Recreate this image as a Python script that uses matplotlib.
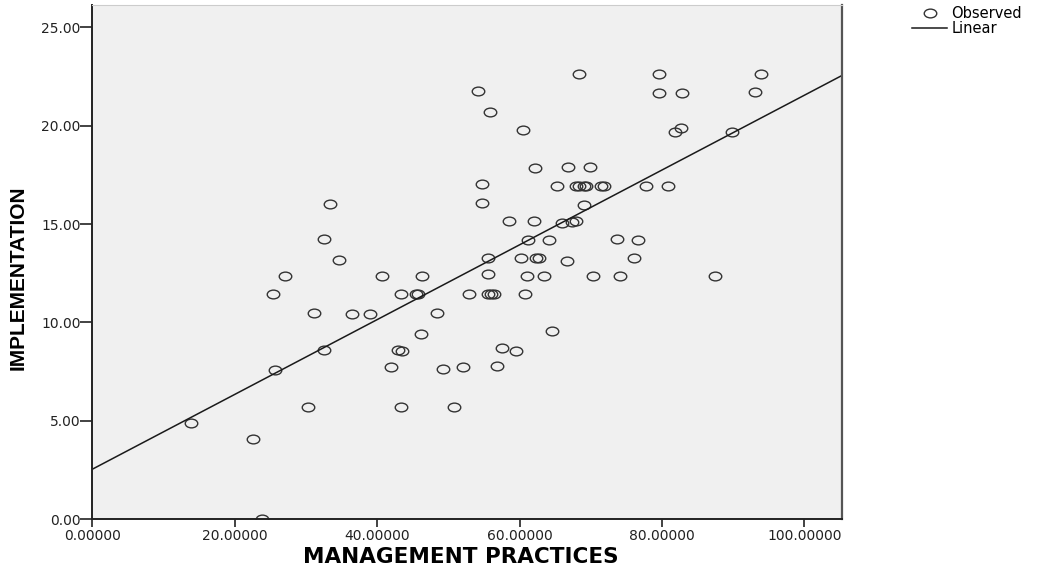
import numpy as np
import matplotlib
matplotlib.use('Agg')
import matplotlib.pyplot as plt
from matplotlib.path import Path
from matplotlib.transforms import Affine2D
from matplotlib.ticker import FormatStrFormatter

# values
management = [23.8, 13.8, 22.6, 30.3, 43.4, 50.8, 25.7, 41.9, 49.3, 52.0,
              56.8, 32.5, 42.9, 43.5, 57.6, 59.5, 46.1, 64.6, 31.1, 36.4,
              39.0, 48.4, 25.3, 43.4, 45.5, 45.8, 52.9, 55.6, 56.0, 56.4,
              60.7, 27.0, 40.7, 46.3, 55.6, 61.0, 63.5, 70.3, 74.1, 87.4,
              34.6, 55.6, 60.2, 62.3, 62.7, 66.7, 76.1, 32.5, 61.2, 64.1,
              73.7, 76.7, 58.5, 62.1, 66.0, 67.4, 67.9, 33.4, 54.7, 69.1,
              54.7, 65.3, 67.9, 68.4, 69.0, 69.4, 71.4, 71.8, 77.8, 80.9,
              62.2, 66.8, 69.9, 60.5, 82.7, 81.8, 89.9, 55.9, 54.1, 79.6,
              82.8, 93.1, 68.3, 79.6, 93.9]
implementation = [0.0, 4.87, 4.05, 5.71, 5.71, 5.71, 7.58, 7.72, 7.65, 7.75,
                  7.78, 8.6, 8.6, 8.56, 8.68, 8.56, 9.41, 9.58, 10.49, 10.43,
                  10.43, 10.49, 11.43, 11.43, 11.43, 11.43, 11.43, 11.43, 11.43, 11.43,
                  11.43, 12.38, 12.38, 12.38, 12.45, 12.38, 12.38, 12.38, 12.38, 12.38,
                  13.17, 13.26, 13.26, 13.26, 13.26, 13.12, 13.26, 14.23, 14.18, 14.18,
                  14.23, 14.19, 15.16, 15.16, 15.04, 15.12, 15.16, 16.01, 16.06, 15.96,
                  17.04, 16.94, 16.94, 16.94, 16.94, 16.94, 16.94, 16.94, 16.94, 16.94,
                  17.87, 17.92, 17.92, 19.79, 19.9, 19.67, 19.67, 20.69, 21.79, 21.68,
                  21.68, 21.73, 22.62, 22.62, 22.62]

x = np.array(management)
y = np.array(implementation)
slope, intercept = np.polyfit(x, y, 1)

ellipse = Path.unit_circle().transformed(Affine2D().scale(1.0, 0.7))

fig = plt.figure(figsize=(10.4, 5.74), dpi=100)
ax = fig.add_axes([0.0889, 0.0958, 0.7207, 0.8955])
ax.set_facecolor('#f0f0f0')

ax.plot(x, y, linestyle='none', marker=ellipse, markersize=9,
        markerfacecolor='none', markeredgecolor='#333333', markeredgewidth=1.0,
        label='Observed')
xx = np.array([0, 105.3])
ax.plot(xx, intercept + slope * xx, color='#1a1a1a', linewidth=1.1, label='Linear')

ax.set_xlim(0, 105.3)
ax.set_ylim(0, 26.14)
ax.set_xticks([0, 20, 40, 60, 80, 100])
ax.set_yticks([0, 5, 10, 15, 20, 25])
ax.xaxis.set_major_formatter(FormatStrFormatter('%.5f'))
ax.yaxis.set_major_formatter(FormatStrFormatter('%.2f'))
ax.tick_params(axis='x', direction='out', length=6, width=1.2, pad=1,
               labelsize=10, colors='#222222')
ax.tick_params(axis='y', direction='out', length=8.5, width=1.2, pad=0,
               labelsize=10, colors='#222222')
for lab in ax.get_xticklabels() + ax.get_yticklabels():
    lab.set_family('DejaVu Sans')

for side in ['left', 'bottom']:
    ax.spines[side].set_color('#222222')
    ax.spines[side].set_linewidth(1.4)
ax.spines['right'].set_color('#555555')
ax.spines['right'].set_linewidth(1.6)
ax.spines['top'].set_color('#cccccc')
ax.spines['top'].set_linewidth(0.8)

ax.set_xlabel('MANAGEMENT PRACTICES', fontsize=15.5, fontweight='bold',
              family='DejaVu Sans')
ax.xaxis.set_label_coords(0.491, -0.055)
ax.set_ylabel('IMPLEMENTATION', fontsize=15, fontweight='bold',
              family='Liberation Sans')
ax.yaxis.set_label_coords(-0.086, 0.469)

fig.legend(loc='upper left', bbox_to_anchor=(0.877, 0.99), frameon=False,
           borderpad=0, borderaxespad=0, handlelength=2.4, handletextpad=0.3,
           labelspacing=0.05, prop={'family': 'DejaVu Sans', 'size': 10.5})

plt.savefig('out.png', dpi=100)
